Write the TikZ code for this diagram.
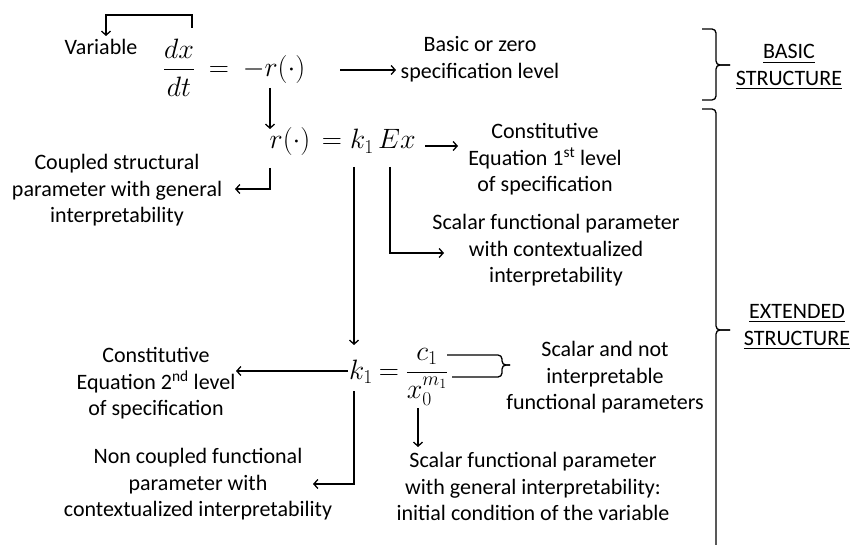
\RequirePackage{fix-cm}
\documentclass[tikz,border=0pt]{standalone}
\usepackage{amsmath}
\usepackage[no-math]{fontspec}
\setmainfont{Carlito}
\usetikzlibrary{arrows.meta}
\tikzset{
  m/.style={anchor=base, inner sep=0pt, font=\fontsize{28}{34}\selectfont},
  txt/.style={anchor=north, inner sep=0pt, align=center,
    font=\fontsize{22}{26.5}\selectfont,
    execute at begin node=\strut, execute at end node=\strut},
  ln/.style={line width=1.3pt, black},
  arr/.style={ln, -{Straight Barb[length=4pt,width=9pt]}},
  brace/.style={ln, rounded corners=4pt}
}
\begin{document}
\begin{tikzpicture}[x=1pt, y=-1pt]
\useasboundingbox (0,0) rectangle (853,545);
\fill[white] (0,0) rectangle (853,545);

% equations
\node[m] (frac1) at (179,77) {$\displaystyle\frac{dx}{dt}$};
\node[m] (eq1)   at (219,77) {$=$};
\node[m] (r1)    at (274,77) {$-r(\cdot)$};
\node[m] (r2)    at (290,149) {$r(\cdot)$};
\node[m] (eq2)   at (332,149) {$=$};
\node[m] (k1a)   at (362,149) {$k_1$};
\node[m] (Ex)    at (397,149) {$Ex$};
\node[m] (k1b)   at (361,379) {$k_1$};
\node[m] (eq3)   at (389,379) {$=$};
\node[m] (frac3) at (427,379) {$\displaystyle\frac{c_1}{x_0^{m_1}}$};

% texts
\node[anchor=base, inner sep=0pt, font=\fontsize{22}{26.5}\selectfont] (var) at (101,55) {Variable};
\node[txt] (basic)   at (480,36.45)  {Basic or zero\\specification level};
\node[txt] (bstruct) at (789,44.45)  {\underline{BASIC}\\\underline{STRUCTURE}};
\node[txt] (con1)    at (545,123.45) {Constitutive\\Equation 1\textsuperscript{st} level\\of specification};
\node[txt] (scal1)   at (556,214.45) {Scalar functional parameter\\with contextualized\\interpretability};
\node[txt] (coup)    at (117,154.45) {Coupled structural\\parameter with general\\interpretability};
\node[txt] (estruct) at (797,304.45) {\underline{EXTENDED}\\\underline{STRUCTURE}};
\node[txt] (con2)    at (156,347.45) {Constitutive\\Equation 2\textsuperscript{nd} level\\of specification};
\node[txt] (scal2)   at (605,341.45) {Scalar and not\\interpretable\\functional parameters};
\node[txt] (scal3)   at (533,452.45) {Scalar functional parameter\\with general interpretability:\\initial condition of the variable};
\node[txt] (non)     at (198,448.45) {Non coupled functional\\parameter with\\contextualized interpretability};

% connectors
\draw[arr] ([xshift=13pt,yshift=49pt]frac1.base) |- ([xshift=5pt,yshift=40pt]var.base) -- ([xshift=5pt,yshift=19pt]var.base);
\draw[arr] ([xshift=66pt,yshift=7pt]r1.base) -- ([xshift=-84pt,yshift=-33.55pt]basic.north);
\draw[arr] ([xshift=-4pt,yshift=-11pt]r1.base) -- ([xshift=-20pt,yshift=20pt]r2.base);
\draw[arr] ([xshift=-20pt,yshift=-19pt]r2.base) |- ([xshift=118pt,yshift=-34.55pt]coup.north);
\draw[arr] ([xshift=28pt,yshift=3pt]Ex.base) -- ([xshift=-87pt,yshift=-22.55pt]con1.north);
\draw[arr] ([xshift=-7pt,yshift=-18pt]Ex.base) |- ([xshift=-112pt,yshift=-38.55pt]scal1.north);
\draw[arr] ([xshift=-8pt,yshift=-18pt]k1a.base) -- ([xshift=-7pt,yshift=34pt]k1b.base);
\draw[arr] ([xshift=-13pt,yshift=8pt]k1b.base) -- ([xshift=80pt,yshift=-23.55pt]con2.north);
\draw[arr] ([xshift=-9pt,yshift=-29pt]frac3.base) -- ([xshift=-115pt,yshift=5.45pt]scal3.north);
\draw[arr] ([xshift=-7pt,yshift=-12pt]k1b.base) |- ([xshift=115pt,yshift=-35.55pt]non.north);

% small brace after fraction
\draw[brace] ([xshift=20pt,yshift=24pt]frac3.base) -- (502,355) -- (502,365) -- (510,365);
\draw[brace] ([xshift=25pt,yshift=2pt]frac3.base) -- (502,377) -- (502,365) -- (510,365);

% structure braces
\draw[brace] (702,29) -- (716,29) -- (716,65) -- (730,65);
\draw[brace] (730,65) -- (716,65) -- (716,100) -- (702,100);
\draw[brace] (702,109) -- (716,109) -- (716,330) -- (730,330);
\draw[brace] (730,330) -- (716,330) -- (716,546);
\end{tikzpicture}
\end{document}
